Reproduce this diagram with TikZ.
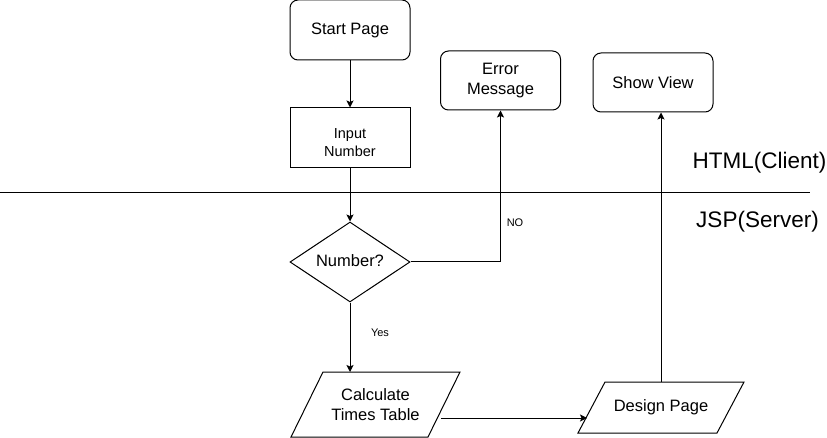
\documentclass[tikz,border=0pt]{standalone}
\usepackage{fontspec}
\setmainfont{Liberation Sans}
\usetikzlibrary{calc,arrows.meta,shapes.geometric}
\begin{document}
\begin{tikzpicture}[x=1pt,y=-1pt,
  line width=1pt,
  mainfont/.style={font=\fontsize{16.5}{19.5}\selectfont},
  rbox/.style={draw, rounded corners=8pt, minimum width=120pt, minimum height=59pt, align=center, inner sep=0pt, mainfont},
  sbox/.style={draw, minimum width=120pt, minimum height=60pt, align=center, inner sep=0pt},
  dec/.style={draw, diamond, aspect=1.5, minimum width=120pt, minimum height=80pt, inner sep=0pt, mainfont},
  io/.style={draw=none, align=center, inner sep=0pt, mainfont},
  small/.style={font=\fontsize{11}{13}\selectfont, inner sep=0pt},
  big/.style={font=\fontsize{22.5}{26}\selectfont, inner sep=0pt},
  arr/.style={-{Stealth[length=7pt,width=7pt,inset=1.5pt]}}
]
\useasboundingbox (0,0) rectangle (827,438);

% nodes
\node[rbox, minimum height=60pt] (start) at (350,30) {Start Page};
\node[sbox, label={[align=center, inner sep=0pt, yshift=-5pt, font=\fontsize{14.5}{18}\selectfont]center:Input\\Number}] (input) at (350,138) {};
\node[rbox] (err) at (500.5,80.5) {Error\\Message};
\node[rbox] (show) at (653,82.5) {Show View};
\node[dec] (dia) at (350,262) {\raisebox{2pt}{Number?}};
\node[io, minimum width=137pt, minimum height=65pt] (calc) at (375.5,404.5) {Calculate\\Times Table};
\node[io, minimum width=138pt, minimum height=51pt] (design) at (661,407.5) {Design Page};

% parallelogram outlines
\draw ($(calc.center)+(-84.5,32.5)$) -- ($(calc.center)+(-52.5,-32.5)$) -- ($(calc.center)+(84.5,-32.5)$) -- ($(calc.center)+(52.5,32.5)$) -- cycle;
\draw ($(design.center)+(-83,25.5)$) -- ($(design.center)+(-56,-25.5)$) -- ($(design.center)+(83,-25.5)$) -- ($(design.center)+(56,25.5)$) -- cycle;

% labels
\node[big] (html) at (759.5,163) {HTML(Client)};
\node[big] (jsp) at (757.5,222) {JSP(Server)};
\node[small] (nolab) at (515,223) {NO};
\node[small] (yeslab) at (380,333) {Yes};

% divider
\coordinate (divL) at (0,193);
\coordinate (divR) at (810,193);
\draw (divL) -- (divR);

% connectors
\draw[arr] (start.south) -- (input.north);
\draw[arr] (input.south) -- (dia.north);
\draw[arr] (dia.east) -| (err.south);
\draw[arr] (dia.south) -- ($(calc.center)+(-25.5,-32.5)$);
\draw[arr] ($(calc.center)+(65.5,13.5)$) -- ($(design.center)+(-74,10.5)$);
\draw[arr] (design.north) -- (design.north |- show.south);
\end{tikzpicture}
\end{document}
